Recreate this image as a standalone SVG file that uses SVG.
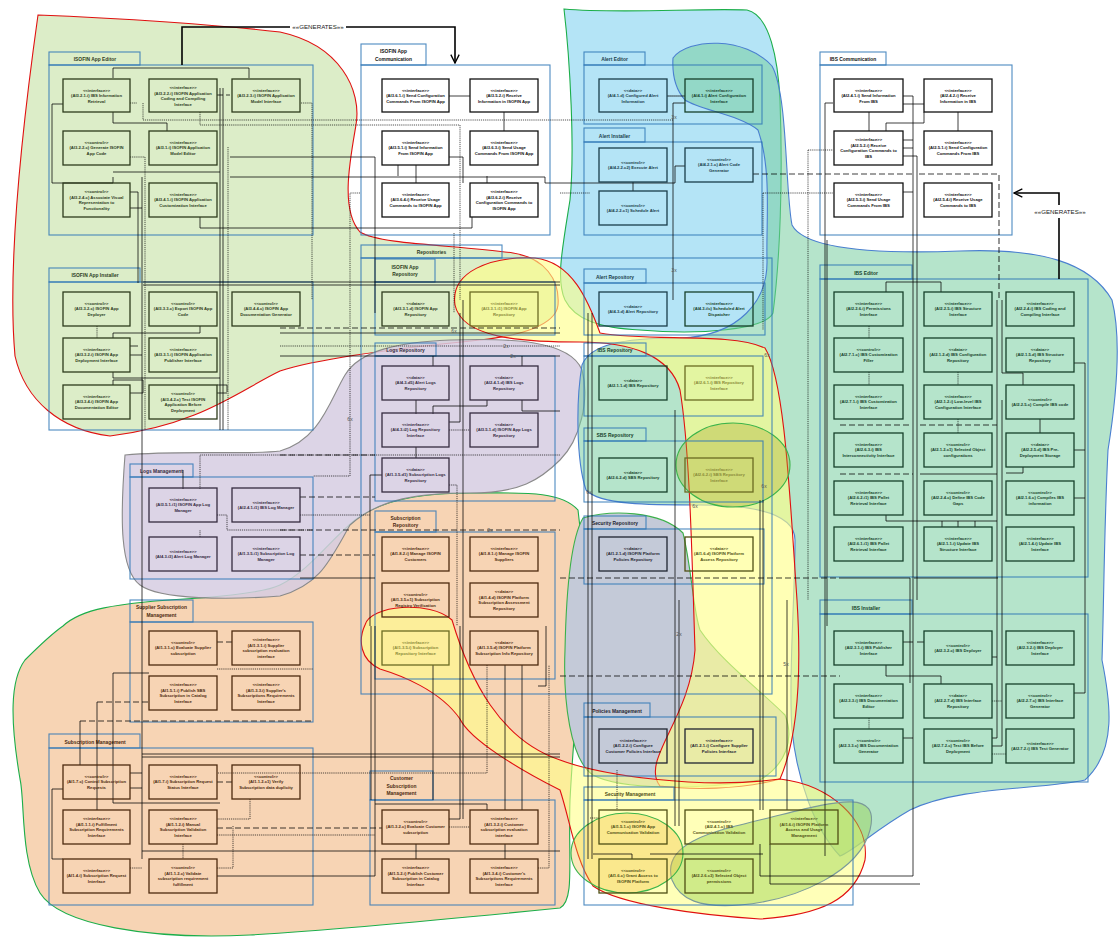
<svg xmlns="http://www.w3.org/2000/svg" width="1120" height="939" viewBox="0 0 1120 939">
<defs>
<marker id="arr" viewBox="0 0 12 12" refX="11" refY="6" markerWidth="10" markerHeight="10" orient="auto" markerUnits="userSpaceOnUse"><path d="M1,1 L11,6 L1,11" fill="none" stroke="#000" stroke-width="1.6"/></marker>
<style>
.blob{stroke-width:1.1}
.pk{fill:none;stroke:#2e75b6;stroke-width:1.1;stroke-opacity:.85}
.pl{font-family:"Liberation Sans",Arial,sans-serif;font-size:4.9px;font-weight:bold;text-anchor:middle}
.n rect{fill:none;stroke-width:1.3}
.n text{font-family:"Liberation Sans",Arial,sans-serif;font-size:4.2px;font-weight:bold;text-anchor:middle}
.ng rect{stroke:#2d3b1c}.ng text,.tg{fill:#2d3b1c}
.nw rect{stroke:#111}.nw text,.tw{fill:#111}
.nb rect{stroke:#1a3d4a}.nb text,.tb{fill:#1a3d4a}
.nt rect{stroke:#163f2a}.nt text,.tt{fill:#163f2a}
.np rect{stroke:#352b40}.np text,.tp{fill:#352b40}
.no rect{stroke:#4d2a0f}.no text,.to{fill:#4d2a0f}
.ns rect{stroke:#1f2430}.ns text,.ts{fill:#1f2430}
.ny rect{stroke:#4f4f14}.ny text,.ty{fill:#4f4f14}
.nl rect{stroke:#6b6b22}.nl text{fill:#8a8a38}
#connectors path{fill:none;stroke:#000;stroke-opacity:.75;stroke-width:1}
#connectors .d{stroke-dasharray:1.2 0.9;stroke-width:.9}
#connectors .l{stroke-dasharray:6 3;stroke-width:1.1}
#connectors .gen{stroke:#000;stroke-opacity:1;stroke-width:1.6}
.gl{font-family:"Liberation Sans",Arial,sans-serif;font-size:6.2px;fill:#222;text-anchor:middle}
.m{font-family:"Liberation Sans",Arial,sans-serif;font-size:5px;fill:#555;text-anchor:middle}
</style>
</defs>
<rect width="1120" height="939" fill="#fff"/>

<g id="blobs">
<path class="blob" fill="#dcedc8" stroke="#e01010" d="M38,15 C120,18 220,25 280,32 C340,45 362,90 356,125 C350,160 340,210 360,232 C380,245 460,245 513,253 C545,258 560,280 558,305 C556,325 520,336 480,340 C400,348 320,358 280,371 C240,390 200,425 110,436 C60,430 25,400 15,356 C10,300 12,200 38,15 Z"/>
<path class="blob" fill="#f7d4b4" stroke="#1cae4a" d="M63,626 C80,610 110,603 200,598 C250,594 270,590 280,585 C310,570 330,540 355,520 C380,500 420,493 470,493 C520,493 560,490 578,510 C590,600 575,700 570,800 C568,860 575,900 560,908 C460,918 330,930 250,935 C150,940 60,925 40,893 C20,860 25,800 20,779 C10,720 10,680 25,660 C40,645 50,635 63,626 Z"/>
<path class="blob" fill="#d6cde2" fill-opacity=".85" stroke="#8a8a8a" d="M125,455 C180,450 250,455 280,451 C320,440 330,400 345,375 C360,350 400,342 450,340 C510,338 570,340 582,370 C590,400 580,440 560,460 C540,480 520,493 470,493 C420,493 380,498 350,525 C330,560 320,585 280,596 C230,600 160,600 140,585 C120,570 120,520 125,455 Z"/>
<path class="blob" fill="#b4e4f6" stroke="#1cae4a" d="M564,9 C620,14 700,8 747,10 C770,15 778,60 780,100 C783,180 780,260 773,313 C765,330 700,335 640,330 C600,328 575,320 565,300 C556,280 562,250 570,200 C575,150 570,60 564,9 Z"/>
<path class="blob" fill="#78cda0" fill-opacity=".55" stroke="#4a7fd0" d="M673,58 C688,38 745,36 772,66 C788,95 785,190 792,225 C805,250 880,254 960,251 C1040,248 1090,262 1112,300 C1122,340 1116,400 1108,450 C1104,530 1104,600 1102,660 C1110,700 1118,750 1085,780 C1040,790 960,786 910,810 C875,830 855,850 840,856 C815,830 797,780 792,730 C788,680 795,600 795,540 C795,515 760,505 700,505 C650,505 600,505 586,490 C576,460 576,400 582,365 C590,345 620,338 680,338 C740,336 768,300 767,260 C766,220 772,170 758,130 C740,115 700,110 685,100 C676,90 672,75 673,58 Z"/>
<path class="blob" fill="#c4cad8" stroke="#3cb04a" d="M583,518 C610,510 660,510 683,533 C692,570 693,610 700,630 C720,660 760,690 785,715 C795,740 785,765 760,780 C700,790 620,790 593,775 C570,760 563,700 565,650 C566,600 570,540 583,518 Z"/>
<path class="blob" fill="#ffff88" fill-opacity=".62" stroke="#e01010" d="M455,305 C450,272 490,256 535,258 C572,262 588,300 600,333 C650,342 730,332 765,348 C785,380 790,500 797,600 C802,680 797,740 780,779 C740,790 690,790 660,786 C640,760 690,720 695,650 C692,560 690,450 680,390 C670,355 630,342 580,342 C520,342 462,338 455,305 Z"/>
<path class="blob" fill="#ffff88" fill-opacity=".6" stroke="#e01010" d="M365,625 C370,605 430,600 452,620 C470,680 500,740 560,760 C600,775 700,790 780,779 C830,785 870,820 865,860 C855,900 820,915 760,919 C700,915 620,905 593,886 C575,860 570,820 560,790 C520,770 470,740 460,719 C440,690 400,675 380,669 C360,660 358,640 365,625 Z"/>
<ellipse class="blob" cx="733" cy="465" rx="57" ry="42" fill="#aaaa28" fill-opacity=".35" stroke="#3cb44a"/>
<path class="blob" fill="#96d250" fill-opacity=".45" stroke="#7a9a9a" d="M672,880 C660,840 720,830 780,815 C840,800 880,790 870,830 C860,870 800,900 740,905 C700,908 680,900 672,880 Z"/>
<ellipse class="blob" cx="627" cy="853" rx="56" ry="40" fill="#f0be3c" fill-opacity=".35" stroke="#3cb44a"/>
</g>

<g id="packages">
<rect class="pk" x="49" y="52" width="91" height="13"/><rect class="pk" x="49" y="65" width="264" height="170"/>
<text class="pl tg" x="95" y="61">ISOFIN App Editor</text>
<rect class="pk" x="49" y="268" width="91" height="14"/><rect class="pk" x="49" y="282" width="264" height="148"/>
<text class="pl tg" x="95" y="277">ISOFIN App Installer</text>
<rect class="pk" x="361" y="44" width="65" height="21"/><rect class="pk" x="361" y="65" width="189" height="170"/>
<text class="pl tw" x="393.5" y="53">ISOFIN App</text><text class="pl tw" x="393.5" y="60.5">Communication</text>
<rect class="pk" x="584" y="52" width="61" height="13"/><rect class="pk" x="584" y="65" width="178" height="59"/>
<text class="pl tb" x="614.5" y="61">Alert Editor</text>
<rect class="pk" x="584" y="128" width="61" height="14"/><rect class="pk" x="584" y="142" width="178" height="93"/>
<text class="pl tb" x="614.5" y="137.5">Alert Installer</text>
<rect class="pk" x="820" y="52" width="66" height="13"/><rect class="pk" x="820" y="65" width="192" height="170"/>
<text class="pl tw" x="853" y="61">IBS Communication</text>
<rect class="pk" x="361" y="245" width="141" height="13"/><rect class="pk" x="361" y="258" width="411" height="436"/>
<text class="pl tg" x="431.5" y="254">Repositories</text>
<rect class="pk" x="375" y="259" width="60" height="23"/><rect class="pk" x="375" y="282" width="180" height="53"/>
<text class="pl tg" x="405" y="268.5">ISOFIN App</text><text class="pl tg" x="405" y="276">Repository</text>
<rect class="pk" x="375" y="343" width="61" height="13"/><rect class="pk" x="375" y="356" width="180" height="145"/>
<text class="pl tp" x="405.5" y="352">Logs Repository</text>
<rect class="pk" x="375" y="511" width="61" height="21"/><rect class="pk" x="375" y="532" width="180" height="147"/>
<text class="pl to" x="405.5" y="519.5">Subscription</text><text class="pl to" x="405.5" y="527">Repository</text>
<rect class="pk" x="584" y="269" width="62" height="14"/><rect class="pk" x="584" y="283" width="181" height="52"/>
<text class="pl tb" x="615" y="278.5">Alert Repository</text>
<rect class="pk" x="584" y="343" width="62" height="13"/><rect class="pk" x="584" y="356" width="179" height="60"/>
<text class="pl tt" x="615" y="352">IBS Repository</text>
<rect class="pk" x="584" y="428" width="62" height="13"/><rect class="pk" x="584" y="441" width="179" height="61"/>
<text class="pl tt" x="615" y="437">SBS Repository</text>
<rect class="pk" x="584" y="516" width="62" height="13"/><rect class="pk" x="584" y="529" width="180" height="55"/>
<text class="pl ts" x="615" y="525">Security Repository</text>
<rect class="pk" x="820" y="265" width="92" height="14"/><rect class="pk" x="820" y="279" width="268" height="298"/>
<text class="pl tt" x="866" y="274.5">IBS Editor</text>
<rect class="pk" x="820" y="600" width="92" height="14"/><rect class="pk" x="820" y="614" width="268" height="168"/>
<text class="pl tt" x="866" y="609.5">IBS Installer</text>
<rect class="pk" x="130" y="464" width="63" height="13"/><rect class="pk" x="130" y="477" width="183" height="102"/>
<text class="pl tp" x="161.5" y="473">Logs Management</text>
<rect class="pk" x="130" y="600" width="63" height="22"/><rect class="pk" x="130" y="622" width="183" height="100"/>
<text class="pl to" x="161.5" y="608.5">Supplier Subscription</text><text class="pl to" x="161.5" y="616.5">Management</text>
<rect class="pk" x="49" y="734" width="91" height="14"/><rect class="pk" x="49" y="748" width="264" height="157"/>
<text class="pl to" x="95" y="743.5">Subscription Management</text>
<rect class="pk" x="370" y="771" width="63" height="29"/><rect class="pk" x="370" y="800" width="185" height="105"/>
<text class="pl to" x="401.5" y="780">Customer</text><text class="pl to" x="401.5" y="787.5">Subscription</text><text class="pl to" x="401.5" y="795">Management</text>
<rect class="pk" x="584" y="703" width="66" height="14"/><rect class="pk" x="584" y="717" width="192" height="59"/>
<text class="pl ts" x="617" y="712.5">Policies Management</text>
<rect class="pk" x="584" y="787" width="90" height="13"/><rect class="pk" x="584" y="800" width="269" height="105"/>
<text class="pl ty" x="630" y="796">Security Management</text>
</g>

<g id="connectors">
<path class="gen" d="M182,65V27H290"/>
<path class="gen" d="M346,27H455V63" marker-end="url(#arr)"/>
<path class="gen" d="M1059,279V218"/>
<path class="gen" d="M1059,205V193H1014" marker-end="url(#arr)"/>
<path d="M113,78V68H249V78"/>
<path d="M63,104H52V183H113V177"/>
<path d="M113,112V123H167V131"/>
<path d="M113,172H220"/>
<path d="M130,192H138V283"/>
<path d="M130,208H142"/>
<path d="M220,88V430"/>
<path d="M223,88V430"/>
<path d="M200,217V228H472V217"/>
<path d="M230,157H375V313"/>
<path d="M230,177H545V183H675V166H685"/>
<path d="M449,96H470"/>
<path d="M504,112V131"/>
<path d="M398,165V176"/>
<path d="M416,165V183"/>
<path d="M487,176V183"/>
<path d="M449,157H463V183"/>
<path d="M143,282H560"/>
<path d="M143,285H560"/>
<path d="M685,103H673V300"/>
<path d="M633,182V191"/>
<path d="M903,96H913V600"/>
<path d="M903,104H924"/>
<path d="M869,112V131"/>
<path d="M886,131V123H924V112"/>
<path d="M958,112V131"/>
<path d="M903,140H913M903,148H913M903,192H913"/>
<path d="M903,156H917V600"/>
<path d="M886,292V282H941V292"/>
<path d="M1002,300V373H1023V385"/>
<path d="M1040,419V433"/>
<path d="M1074,363H1085V693H1074"/>
<path d="M1074,450H1085M1074,498H1085"/>
<path d="M1006,473H1023V467"/>
<path d="M886,515V521H997M942,521V527M958,521V527M975,521V527"/>
<path d="M920,474H997"/>
<path class="l" d="M840,474H913M840,425H912M920,425H997"/>
<path d="M997,300V738H992"/>
<path d="M1002,400V746H992"/>
<path d="M913,600V876H760V844"/>
<path d="M920,884H770V844"/>
<path d="M910,578V683"/>
<path d="M840,578H910M914,578H998"/>
<path d="M903,642H913M917,642H924"/>
<path d="M886,665V676H941V684"/>
<path d="M992,657H997M903,738H913"/>
<path d="M833,103H825V856"/>
<path d="M827,240V626"/>
<path class="l" d="M560,676H840"/>
<path class="l" d="M560,578H840"/>
<path d="M588,313V859M592,313V859"/>
<path d="M675,410V826M679,600V826"/>
<path d="M760,500V810M763,500V810M787,600V810"/>
<path d="M593,854H632V859M650,854H763"/>
<path d="M113,673H149"/>
<path d="M113,673V803H220"/>
<path class="l" d="M97,702H149"/>
<path d="M97,702V810"/>
<path class="l" d="M80,721H313"/>
<path d="M80,721V765"/>
<path d="M142,754H560M142,757H560"/>
<path d="M63,789H52V859H63"/>
<path d="M130,773H142M130,788H142"/>
<path d="M142,177V859"/>
<path d="M142,851H560"/>
<path d="M217,876H375V626"/>
<path d="M433,665V800"/>
<path d="M460,626V819H449"/>
<path d="M505,665V810M522,665V810"/>
<path d="M546,626V686H538"/>
<path d="M416,844V859M505,844V859"/>
<path d="M375,804H487V810"/>
<path d="M382,475H370V626"/>
<path d="M371,626V800"/>
<path d="M449,422H460V313"/>
<path d="M433,356V366M522,356V366"/>
<path d="M416,400V414"/>
<path d="M433,414V406H487V400"/>
<path d="M522,400V411H560"/>
<path d="M416,447V458"/>
<path d="M463,300V819"/>
<path d="M113,338V333H200V326"/>
<path d="M130,346H138M130,355H142"/>
<path d="M113,372V378H220"/>
<path d="M113,385V380H143V393H130"/>
<path d="M217,385H227V392M217,393H227"/>
<path d="M183,470V489"/>
<path d="M280,356H560"/>
<path class="l" d="M280,328H560"/>
<path d="M280,333H560"/>
<path class="l" d="M280,455H375M300,497H375"/>
<path class="l" d="M280,530H560M300,555H375"/>
<path d="M300,578H375"/>
<path class="d" d="M130,103H137"/>
<path class="d" d="M143,103V120H673"/>
<path class="d" d="M200,112V125H460V300"/>
<path class="d" d="M130,157H145V430"/>
<path class="d" d="M228,147V430"/>
<path class="d" d="M301,103H312V300"/>
<path class="d" d="M360,193H350V476H313"/>
<path class="d" d="M454,233V313"/>
<path class="d" d="M668,96H685"/>
<path class="d" d="M560,193H590"/>
<path class="d" d="M763,193H833M763,193V330"/>
<path class="d" d="M808,150H833M808,150V600"/>
<path class="d" d="M869,326V338M869,372V385M958,372V385M958,419V433M869,718V729"/>
<path class="d" d="M992,701H1002M992,754H1006"/>
<path class="d" d="M97,326V338"/>
<path class="d" d="M200,489V455H560"/>
<path class="d" d="M280,346H560"/>
<path class="d" d="M217,515H227V530H313"/>
<path class="d" d="M200,537V530"/>
<path class="d" d="M250,799V819H217"/>
<path class="d" d="M233,826V868H217"/>
<path class="d" d="M183,844V859"/>
<path class="d" d="M217,669H313"/>
<path class="d" d="M449,485H457V626"/>
<path class="d" d="M487,665V773H217"/>
<path class="d" d="M538,868H549V665"/>
<path class="d" d="M449,827H470"/>
<path class="d" d="M617,770V810M590,818H599"/>
<path class="d" d="M217,835H375"/>
<path class="d" d="M130,868H142"/>
<path class="d" d="M300,515H370"/>
<path class="d" d="M449,430H470"/>
<path class="d" d="M667,96H685"/>
<path class="l" d="M217,95H230"/>
<path class="l" d="M753,174H912M919,174H999V300"/>
<path class="l" d="M217,828H382"/>
<path class="l" d="M217,782H232"/>
<path class="l" d="M217,642H232"/>
<text class="gl" x="318" y="29">««GENERATES»»</text>
<text class="gl" x="1060" y="214">««GENERATES»»</text>
<text class="m" x="674" y="119">3x</text>
<text class="m" x="674" y="272">3x</text>
<text class="m" x="454" y="333">6x</text>
<text class="m" x="506" y="348">2x</text>
<text class="m" x="513" y="358">2x</text>
<text class="m" x="350" y="421">6x</text>
<text class="m" x="490" y="532">2x</text>
<text class="m" x="767" y="357">6x</text>
<text class="m" x="589" y="494">6x</text>
<text class="m" x="695" y="508">6x</text>
<text class="m" x="764" y="488">6x</text>
<text class="m" x="679" y="636">2x</text>
<text class="m" x="786" y="666">5x</text>
</g>

<g id="n-ai3-2-1-i" class="n ng"><rect x="63" y="79" width="67" height="33"/><text x="96.5" y="91.6"><tspan x="96.5">&lt;&lt;interface&gt;&gt;</tspan><tspan x="96.5" dy="5.8">(AI3.2.1.i) IBS Information</tspan><tspan x="96.5" dy="5.8">Retrieval</tspan></text></g>
<g id="n-ai3-2-2-i" class="n ng"><rect x="149" y="79" width="68" height="33"/><text x="183" y="88.7"><tspan x="183">&lt;&lt;interface&gt;&gt;</tspan><tspan x="183" dy="5.8">(AI3.2.2.i) ISOFIN Application</tspan><tspan x="183" dy="5.8">Coding and Compiling</tspan><tspan x="183" dy="5.8">Interface</tspan></text></g>
<g id="n-ai3-2-3-i" class="n ng"><rect x="232" y="79" width="68" height="33"/><text x="266" y="91.6"><tspan x="266">&lt;&lt;interface&gt;&gt;</tspan><tspan x="266" dy="5.8">(AI3.2.3.i) ISOFIN Application</tspan><tspan x="266" dy="5.8">Model Interface</tspan></text></g>
<g id="n-ai3-2-2-c" class="n ng"><rect x="63" y="131" width="67" height="34"/><text x="96.5" y="143.6"><tspan x="96.5">&lt;&lt;control&gt;&gt;</tspan><tspan x="96.5" dy="5.8">(AI3.2.2.c) Generate ISOFIN</tspan><tspan x="96.5" dy="5.8">App Code</tspan></text></g>
<g id="n-ai3-1-i" class="n ng"><rect x="149" y="131" width="68" height="34"/><text x="183" y="143.6"><tspan x="183">&lt;&lt;interface&gt;&gt;</tspan><tspan x="183" dy="5.8">(AI3.1.i) ISOFIN Application</tspan><tspan x="183" dy="5.8">Model Editor</tspan></text></g>
<g id="n-ai3-2-4-c" class="n ng"><rect x="63" y="183" width="67" height="34"/><text x="96.5" y="192.7"><tspan x="96.5">&lt;&lt;control&gt;&gt;</tspan><tspan x="96.5" dy="5.8">(AI3.2.4.c) Associate Visual</tspan><tspan x="96.5" dy="5.8">Representation to</tspan><tspan x="96.5" dy="5.8">Functionality</tspan></text></g>
<g id="n-ai3-4-1-i" class="n ng"><rect x="149" y="183" width="68" height="34"/><text x="183" y="195.6"><tspan x="183">&lt;&lt;interface&gt;&gt;</tspan><tspan x="183" dy="5.8">(AI3.4.1.i) ISOFIN Application</tspan><tspan x="183" dy="5.8">Customization Interface</tspan></text></g>

<g id="n-ai3-3-2-c" class="n ng"><rect x="63" y="292" width="67" height="34"/><text x="96.5" y="304.6"><tspan x="96.5">&lt;&lt;control&gt;&gt;</tspan><tspan x="96.5" dy="5.8">(AI3.3.2.c) ISOFIN App</tspan><tspan x="96.5" dy="5.8">Deployer</tspan></text></g>
<g id="n-ai3-3-3-c" class="n ng"><rect x="149" y="292" width="68" height="34"/><text x="183" y="304.6"><tspan x="183">&lt;&lt;control&gt;&gt;</tspan><tspan x="183" dy="5.8">(AI3.3.3.c) Export ISOFIN App</tspan><tspan x="183" dy="5.8">Code</tspan></text></g>
<g id="n-ai3-4-4-c" class="n ng"><rect x="232" y="292" width="68" height="34"/><text x="266" y="304.6"><tspan x="266">&lt;&lt;control&gt;&gt;</tspan><tspan x="266" dy="5.8">(AI3.4.4.c) ISOFIN App</tspan><tspan x="266" dy="5.8">Documentation Generator</tspan></text></g>
<g id="n-ai3-3-2-i" class="n ng"><rect x="63" y="338" width="67" height="34"/><text x="96.5" y="350.6"><tspan x="96.5">&lt;&lt;interface&gt;&gt;</tspan><tspan x="96.5" dy="5.8">(AI3.3.2.i) ISOFIN App</tspan><tspan x="96.5" dy="5.8">Deployment Interface</tspan></text></g>
<g id="n-ai3-3-1-i" class="n ng"><rect x="149" y="338" width="68" height="34"/><text x="183" y="350.6"><tspan x="183">&lt;&lt;interface&gt;&gt;</tspan><tspan x="183" dy="5.8">(AI3.3.1.i) ISOFIN Application</tspan><tspan x="183" dy="5.8">Publisher Interface</tspan></text></g>
<g id="n-ai3-3-4-i" class="n ng"><rect x="63" y="385" width="67" height="34"/><text x="96.5" y="397.6"><tspan x="96.5">&lt;&lt;interface&gt;&gt;</tspan><tspan x="96.5" dy="5.8">(AI3.3.4.i) ISOFIN App</tspan><tspan x="96.5" dy="5.8">Documentation Editor</tspan></text></g>
<g id="n-ai3-4-2-c" class="n ng"><rect x="149" y="385" width="68" height="34"/><text x="183" y="394.7"><tspan x="183">&lt;&lt;control&gt;&gt;</tspan><tspan x="183" dy="5.8">(AI3.4.2.c) Test ISOFIN</tspan><tspan x="183" dy="5.8">Application Before</tspan><tspan x="183" dy="5.8">Deployment</tspan></text></g>

<g id="n-ai3-6-1-i" class="n nw"><rect x="382" y="79" width="67" height="33"/><text x="415.5" y="91.6"><tspan x="415.5">&lt;&lt;interface&gt;&gt;</tspan><tspan x="415.5" dy="5.8">(AI3.6.1.i) Send Configuration</tspan><tspan x="415.5" dy="5.8">Commands From ISOFIN App</tspan></text></g>
<g id="n-ai3-5-2-i" class="n nw"><rect x="470" y="79" width="68" height="33"/><text x="504" y="91.6"><tspan x="504">&lt;&lt;interface&gt;&gt;</tspan><tspan x="504" dy="5.8">(AI3.5.2.i) Receive</tspan><tspan x="504" dy="5.8">Information in ISOFIN App</tspan></text></g>
<g id="n-ai3-5-1-i" class="n nw"><rect x="382" y="131" width="67" height="34"/><text x="415.5" y="143.6"><tspan x="415.5">&lt;&lt;interface&gt;&gt;</tspan><tspan x="415.5" dy="5.8">(AI3.5.1.i) Send Information</tspan><tspan x="415.5" dy="5.8">From ISOFIN App</tspan></text></g>
<g id="n-ai3-6-3-i" class="n nw"><rect x="470" y="131" width="68" height="34"/><text x="504" y="143.6"><tspan x="504">&lt;&lt;interface&gt;&gt;</tspan><tspan x="504" dy="5.8">(AI3.6.3.i) Send Usage</tspan><tspan x="504" dy="5.8">Commands From ISOFIN App</tspan></text></g>
<g id="n-ai3-6-4-i" class="n nw"><rect x="382" y="183" width="67" height="34"/><text x="415.5" y="195.6"><tspan x="415.5">&lt;&lt;interface&gt;&gt;</tspan><tspan x="415.5" dy="5.8">(AI3.6.4.i) Receive Usage</tspan><tspan x="415.5" dy="5.8">Commands to ISOFIN App</tspan></text></g>
<g id="n-ai3-6-2-i" class="n nw"><rect x="470" y="183" width="68" height="34"/><text x="504" y="192.7"><tspan x="504">&lt;&lt;interface&gt;&gt;</tspan><tspan x="504" dy="5.8">(AI3.6.2.i) Receive</tspan><tspan x="504" dy="5.8">Configuration Commands to</tspan><tspan x="504" dy="5.8">ISOFIN App</tspan></text></g>

<g id="n-ai4-1-d" class="n nb"><rect x="599" y="79" width="68" height="33"/><text x="633" y="91.6"><tspan x="633">&lt;&lt;data&gt;&gt;</tspan><tspan x="633" dy="5.8">(AI4.1.d) Configured Alert</tspan><tspan x="633" dy="5.8">Information</tspan></text></g>
<g id="n-ai4-1-i" class="n nt"><rect x="685" y="79" width="68" height="33"/><text x="719" y="91.6"><tspan x="719">&lt;&lt;interface&gt;&gt;</tspan><tspan x="719" dy="5.8">(AI4.1.i) Alert Configuration</tspan><tspan x="719" dy="5.8">Interface</tspan></text></g>
<g id="n-ai4-2-2-c2" class="n nb"><rect x="599" y="148" width="68" height="34"/><text x="633" y="163.5"><tspan x="633">&lt;&lt;control&gt;&gt;</tspan><tspan x="633" dy="5.8">(AI4.2.2.c2) Execute Alert</tspan></text></g>
<g id="n-ai4-2-1-c" class="n nb"><rect x="685" y="148" width="68" height="34"/><text x="719" y="160.6"><tspan x="719">&lt;&lt;control&gt;&gt;</tspan><tspan x="719" dy="5.8">(AI4.2.1.c) Alert Code</tspan><tspan x="719" dy="5.8">Generator</tspan></text></g>
<g id="n-ai4-2-2-c1" class="n nb"><rect x="599" y="191" width="68" height="34"/><text x="633" y="206.5"><tspan x="633">&lt;&lt;control&gt;&gt;</tspan><tspan x="633" dy="5.8">(AI4.2.2.c1) Schedule Alert</tspan></text></g>

<g id="n-ai2-4-1-i" class="n nw"><rect x="834" y="79" width="69" height="33"/><text x="868.5" y="91.6"><tspan x="868.5">&lt;&lt;interface&gt;&gt;</tspan><tspan x="868.5" dy="5.8">(AI2.4.1.i) Send Information</tspan><tspan x="868.5" dy="5.8">From IBS</tspan></text></g>
<g id="n-ai2-4-2-i" class="n nw"><rect x="924" y="79" width="68" height="33"/><text x="958" y="91.6"><tspan x="958">&lt;&lt;interface&gt;&gt;</tspan><tspan x="958" dy="5.8">(AI2.4.2.i) Receive</tspan><tspan x="958" dy="5.8">Information in IBS</tspan></text></g>
<g id="n-ai2-5-2-i" class="n nw"><rect x="834" y="131" width="69" height="34"/><text x="868.5" y="140.7"><tspan x="868.5">&lt;&lt;interface&gt;&gt;</tspan><tspan x="868.5" dy="5.8">(AI2.5.2.i) Receive</tspan><tspan x="868.5" dy="5.8">Configuration Commands to</tspan><tspan x="868.5" dy="5.8">IBS</tspan></text></g>
<g id="n-ai2-5-1-i" class="n nw"><rect x="924" y="131" width="68" height="34"/><text x="958" y="143.6"><tspan x="958">&lt;&lt;interface&gt;&gt;</tspan><tspan x="958" dy="5.8">(AI2.5.1.i) Send Configuration</tspan><tspan x="958" dy="5.8">Commands From IBS</tspan></text></g>
<g id="n-ai2-5-3-i" class="n nw"><rect x="834" y="183" width="69" height="34"/><text x="868.5" y="195.6"><tspan x="868.5">&lt;&lt;interface&gt;&gt;</tspan><tspan x="868.5" dy="5.8">(AI2.5.3.i) Send Usage</tspan><tspan x="868.5" dy="5.8">Commands From IBS</tspan></text></g>
<g id="n-ai2-5-4-i" class="n nw"><rect x="924" y="183" width="68" height="34"/><text x="958" y="195.6"><tspan x="958">&lt;&lt;interface&gt;&gt;</tspan><tspan x="958" dy="5.8">(AI2.5.4.i) Receive Usage</tspan><tspan x="958" dy="5.8">Commands to IBS</tspan></text></g>

<g id="n-ai3-3-1-d" class="n ng"><rect x="382" y="292" width="67" height="34"/><text x="415.5" y="304.6"><tspan x="415.5">&lt;&lt;data&gt;&gt;</tspan><tspan x="415.5" dy="5.8">(AI3.3.1.d) ISOFIN App</tspan><tspan x="415.5" dy="5.8">Repository</tspan></text></g>
<g id="n-ai3-3-1-i1" class="n nl"><rect x="470" y="292" width="68" height="34"/><text x="504" y="304.6"><tspan x="504">&lt;&lt;interface&gt;&gt;</tspan><tspan x="504" dy="5.8">(AI3.3.1.i1) ISOFIN App</tspan><tspan x="504" dy="5.8">Repository</tspan></text></g>
<g id="n-ai4-3-d" class="n nb"><rect x="599" y="292" width="68" height="34"/><text x="633" y="307.5"><tspan x="633">&lt;&lt;data&gt;&gt;</tspan><tspan x="633" dy="5.8">(AI4.3.d) Alert Repository</tspan></text></g>
<g id="n-ai4-3-ic" class="n nt"><rect x="685" y="292" width="68" height="34"/><text x="719" y="304.6"><tspan x="719">&lt;&lt;interface&gt;&gt;</tspan><tspan x="719" dy="5.8">(AI4.3.i/c) Scheduled Alert</tspan><tspan x="719" dy="5.8">Dispatcher</tspan></text></g>
<g id="n-ai4-3-d5" class="n np"><rect x="382" y="366" width="67" height="34"/><text x="415.5" y="378.6"><tspan x="415.5">&lt;&lt;data&gt;&gt;</tspan><tspan x="415.5" dy="5.8">(AI4.3.d5) Alert Logs</tspan><tspan x="415.5" dy="5.8">Repository</tspan></text></g>
<g id="n-ai2-4-1-d" class="n np"><rect x="470" y="366" width="68" height="34"/><text x="504" y="378.6"><tspan x="504">&lt;&lt;data&gt;&gt;</tspan><tspan x="504" dy="5.8">(AI2.4.1.d) IBS Logs</tspan><tspan x="504" dy="5.8">Repository</tspan></text></g>
<g id="n-ai4-3-i2" class="n np"><rect x="382" y="413" width="67" height="34"/><text x="415.5" y="425.6"><tspan x="415.5">&lt;&lt;interface&gt;&gt;</tspan><tspan x="415.5" dy="5.8">(AI4.3.i2) Log Repository</tspan><tspan x="415.5" dy="5.8">Interface</tspan></text></g>
<g id="n-ai3-5-1-d" class="n np"><rect x="470" y="413" width="68" height="34"/><text x="504" y="425.6"><tspan x="504">&lt;&lt;data&gt;&gt;</tspan><tspan x="504" dy="5.8">(AI3.5.1.d) ISOFIN App Logs</tspan><tspan x="504" dy="5.8">Repository</tspan></text></g>
<g id="n-ai1-3-5-d1" class="n np"><rect x="382" y="458" width="67" height="34"/><text x="415.5" y="470.6"><tspan x="415.5">&lt;&lt;data&gt;&gt;</tspan><tspan x="415.5" dy="5.8">(AI1.3.5.d1) Subscription Logs</tspan><tspan x="415.5" dy="5.8">Repository</tspan></text></g>
<g id="n-ai2-1-1-d" class="n nt"><rect x="599" y="366" width="68" height="34"/><text x="633" y="381.5"><tspan x="633">&lt;&lt;data&gt;&gt;</tspan><tspan x="633" dy="5.8">(AI2.1.1.d) IBS Repository</tspan></text></g>
<g id="n-ai2-6-1-i" class="n nl"><rect x="685" y="366" width="68" height="34"/><text x="719" y="378.6"><tspan x="719">&lt;&lt;interface&gt;&gt;</tspan><tspan x="719" dy="5.8">(AI2.6.1.i) IBS Repository</tspan><tspan x="719" dy="5.8">Interface</tspan></text></g>
<g id="n-ai2-6-2-d" class="n nt"><rect x="599" y="458" width="68" height="34"/><text x="633" y="473.5"><tspan x="633">&lt;&lt;data&gt;&gt;</tspan><tspan x="633" dy="5.8">(AI2.6.2.d) SBS Repository</tspan></text></g>
<g id="n-ai2-6-2-i" class="n nl"><rect x="685" y="458" width="68" height="34"/><text x="719" y="470.6"><tspan x="719">&lt;&lt;interface&gt;&gt;</tspan><tspan x="719" dy="5.8">(AI2.6.2.i) SBS Repository</tspan><tspan x="719" dy="5.8">Interface</tspan></text></g>
<g id="n-ai1-8-2-i" class="n no"><rect x="382" y="537" width="67" height="34"/><text x="415.5" y="549.6"><tspan x="415.5">&lt;&lt;interface&gt;&gt;</tspan><tspan x="415.5" dy="5.8">(AI1.8.2.i) Manage ISOFIN</tspan><tspan x="415.5" dy="5.8">Customers</tspan></text></g>
<g id="n-ai1-8-1-i" class="n no"><rect x="470" y="537" width="68" height="34"/><text x="504" y="549.6"><tspan x="504">&lt;&lt;interface&gt;&gt;</tspan><tspan x="504" dy="5.8">(AI1.8.1.i) Manage ISOFIN</tspan><tspan x="504" dy="5.8">Suppliers</tspan></text></g>
<g id="n-ai1-3-5-c1" class="n no"><rect x="382" y="583" width="67" height="34"/><text x="415.5" y="595.6"><tspan x="415.5">&lt;&lt;control&gt;&gt;</tspan><tspan x="415.5" dy="5.8">(AI1.3.5.c1) Subscription</tspan><tspan x="415.5" dy="5.8">Registry Verification</tspan></text></g>
<g id="n-ai1-4-d" class="n no"><rect x="470" y="583" width="68" height="34"/><text x="504" y="592.7"><tspan x="504">&lt;&lt;data&gt;&gt;</tspan><tspan x="504" dy="5.8">(AI1.4.d) ISOFIN Platform</tspan><tspan x="504" dy="5.8">Subscription Assessment</tspan><tspan x="504" dy="5.8">Repository</tspan></text></g>
<g id="n-ai1-3-5-i" class="n nl"><rect x="382" y="631" width="67" height="34"/><text x="415.5" y="643.6"><tspan x="415.5">&lt;&lt;interface&gt;&gt;</tspan><tspan x="415.5" dy="5.8">(AI1.3.5.i) Subscription</tspan><tspan x="415.5" dy="5.8">Repository Interface</tspan></text></g>
<g id="n-ai1-3-5-d" class="n no"><rect x="470" y="631" width="68" height="34"/><text x="504" y="643.6"><tspan x="504">&lt;&lt;data&gt;&gt;</tspan><tspan x="504" dy="5.8">(AI1.3.5.d) ISOFIN Platform</tspan><tspan x="504" dy="5.8">Subscription Info Repository</tspan></text></g>
<g id="n-ai1-2-1-d" class="n ns"><rect x="599" y="537" width="68" height="34"/><text x="633" y="549.6"><tspan x="633">&lt;&lt;data&gt;&gt;</tspan><tspan x="633" dy="5.8">(AI1.2.1.d) ISOFIN Platform</tspan><tspan x="633" dy="5.8">Policies Repository</tspan></text></g>
<g id="n-ai1-6-d" class="n ny"><rect x="685" y="537" width="68" height="34"/><text x="719" y="549.6"><tspan x="719">&lt;&lt;data&gt;&gt;</tspan><tspan x="719" dy="5.8">(AI1.6.d) ISOFIN Platform</tspan><tspan x="719" dy="5.8">Access Repository</tspan></text></g>

<g id="n-ai2-2-6-i" class="n nt"><rect x="834" y="292" width="69" height="34"/><text x="868.5" y="304.6"><tspan x="868.5">&lt;&lt;interface&gt;&gt;</tspan><tspan x="868.5" dy="5.8">(AI2.2.6.i) Permissions</tspan><tspan x="868.5" dy="5.8">Interface</tspan></text></g>
<g id="n-ai2-2-5-i" class="n nt"><rect x="924" y="292" width="68" height="34"/><text x="958" y="304.6"><tspan x="958">&lt;&lt;interface&gt;&gt;</tspan><tspan x="958" dy="5.8">(AI2.2.5.i) IBS Structure</tspan><tspan x="958" dy="5.8">Interface</tspan></text></g>
<g id="n-ai2-2-4-i" class="n nt"><rect x="1006" y="292" width="68" height="34"/><text x="1040" y="304.6"><tspan x="1040">&lt;&lt;interface&gt;&gt;</tspan><tspan x="1040" dy="5.8">(AI2.2.4.i) IBS Coding and</tspan><tspan x="1040" dy="5.8">Compiling Interface</tspan></text></g>
<g id="n-ai2-7-1-c" class="n nt"><rect x="834" y="338" width="69" height="34"/><text x="868.5" y="350.6"><tspan x="868.5">&lt;&lt;control&gt;&gt;</tspan><tspan x="868.5" dy="5.8">(AI2.7.1.c) IBS Customization</tspan><tspan x="868.5" dy="5.8">Filler</tspan></text></g>
<g id="n-ai2-1-2-d" class="n nt"><rect x="924" y="338" width="68" height="34"/><text x="958" y="350.6"><tspan x="958">&lt;&lt;data&gt;&gt;</tspan><tspan x="958" dy="5.8">(AI2.1.2.d) IBS Configuration</tspan><tspan x="958" dy="5.8">Repository</tspan></text></g>
<g id="n-ai2-1-5-d" class="n nt"><rect x="1006" y="338" width="68" height="34"/><text x="1040" y="350.6"><tspan x="1040">&lt;&lt;data&gt;&gt;</tspan><tspan x="1040" dy="5.8">(AI2.1.5.d) IBS Structure</tspan><tspan x="1040" dy="5.8">Repository</tspan></text></g>
<g id="n-ai2-7-1-i" class="n nt"><rect x="834" y="385" width="69" height="34"/><text x="868.5" y="397.6"><tspan x="868.5">&lt;&lt;interface&gt;&gt;</tspan><tspan x="868.5" dy="5.8">(AI2.7.1.i) IBS Customization</tspan><tspan x="868.5" dy="5.8">Interface</tspan></text></g>
<g id="n-ai2-1-2-i" class="n nt"><rect x="924" y="385" width="68" height="34"/><text x="958" y="397.6"><tspan x="958">&lt;&lt;interface&gt;&gt;</tspan><tspan x="958" dy="5.8">(AI2.1.2.i) Low-level IBS</tspan><tspan x="958" dy="5.8">Configuration Interface</tspan></text></g>
<g id="n-ai2-2-5-c" class="n nt"><rect x="1006" y="385" width="68" height="34"/><text x="1040" y="400.5"><tspan x="1040">&lt;&lt;control&gt;&gt;</tspan><tspan x="1040" dy="5.8">(AI2.2.5.c) Compile IBS code</tspan></text></g>
<g id="n-ai2-6-3-i" class="n nt"><rect x="834" y="433" width="69" height="34"/><text x="868.5" y="445.6"><tspan x="868.5">&lt;&lt;interface&gt;&gt;</tspan><tspan x="868.5" dy="5.8">(AI2.6.3.i) IBS</tspan><tspan x="868.5" dy="5.8">Interconnectivity Interface</tspan></text></g>
<g id="n-ai2-1-2-c1" class="n nt"><rect x="924" y="433" width="68" height="34"/><text x="958" y="445.6"><tspan x="958">&lt;&lt;control&gt;&gt;</tspan><tspan x="958" dy="5.8">(AI2.1.2.c1) Selected Object</tspan><tspan x="958" dy="5.8">configurations</tspan></text></g>
<g id="n-ai2-2-5-d" class="n nt"><rect x="1006" y="433" width="68" height="34"/><text x="1040" y="445.6"><tspan x="1040">&lt;&lt;data&gt;&gt;</tspan><tspan x="1040" dy="5.8">(AI2.2.5.d) IBS Pre-</tspan><tspan x="1040" dy="5.8">Deployment Storage</tspan></text></g>
<g id="n-ai2-6-2-i1" class="n nt"><rect x="834" y="481" width="69" height="34"/><text x="868.5" y="493.6"><tspan x="868.5">&lt;&lt;interface&gt;&gt;</tspan><tspan x="868.5" dy="5.8">(AI2.6.2.i1) IBS Pallet</tspan><tspan x="868.5" dy="5.8">Retrieval Interface</tspan></text></g>
<g id="n-ai2-2-4-c" class="n nt"><rect x="924" y="481" width="68" height="34"/><text x="958" y="493.6"><tspan x="958">&lt;&lt;control&gt;&gt;</tspan><tspan x="958" dy="5.8">(AI2.2.4.c) Define IBS Code</tspan><tspan x="958" dy="5.8">Gaps</tspan></text></g>
<g id="n-ai2-1-6-c" class="n nt"><rect x="1006" y="481" width="68" height="34"/><text x="1040" y="493.6"><tspan x="1040">&lt;&lt;control&gt;&gt;</tspan><tspan x="1040" dy="5.8">(AI2.1.6.c) Compiles IBS</tspan><tspan x="1040" dy="5.8">information</tspan></text></g>
<g id="n-ai2-6-1-i1" class="n nt"><rect x="834" y="527" width="69" height="34"/><text x="868.5" y="539.6"><tspan x="868.5">&lt;&lt;interface&gt;&gt;</tspan><tspan x="868.5" dy="5.8">(AI2.6.1.i1) IBS Pallet</tspan><tspan x="868.5" dy="5.8">Retrieval Interface</tspan></text></g>
<g id="n-ai2-1-1-i" class="n nt"><rect x="924" y="527" width="68" height="34"/><text x="958" y="539.6"><tspan x="958">&lt;&lt;interface&gt;&gt;</tspan><tspan x="958" dy="5.8">(AI2.1.1.i) Update IBS</tspan><tspan x="958" dy="5.8">Structure Interface</tspan></text></g>
<g id="n-ai2-1-4-i" class="n nt"><rect x="1006" y="527" width="68" height="34"/><text x="1040" y="539.6"><tspan x="1040">&lt;&lt;interface&gt;&gt;</tspan><tspan x="1040" dy="5.8">(AI2.1.4.i) Update IBS</tspan><tspan x="1040" dy="5.8">Interface</tspan></text></g>

<g id="n-ai2-3-1-i" class="n nt"><rect x="834" y="631" width="69" height="34"/><text x="868.5" y="643.6"><tspan x="868.5">&lt;&lt;interface&gt;&gt;</tspan><tspan x="868.5" dy="5.8">(AI2.3.1.i) IBS Publisher</tspan><tspan x="868.5" dy="5.8">Interface</tspan></text></g>
<g id="n-ai2-3-2-c" class="n nt"><rect x="924" y="631" width="68" height="34"/><text x="958" y="646.5"><tspan x="958">&lt;&lt;control&gt;&gt;</tspan><tspan x="958" dy="5.8">(AI2.3.2.c) IBS Deployer</tspan></text></g>
<g id="n-ai2-3-2-i" class="n nt"><rect x="1006" y="631" width="68" height="34"/><text x="1040" y="643.6"><tspan x="1040">&lt;&lt;interface&gt;&gt;</tspan><tspan x="1040" dy="5.8">(AI2.3.2.i) IBS Deployer</tspan><tspan x="1040" dy="5.8">Interface</tspan></text></g>
<g id="n-ai2-3-3-i" class="n nt"><rect x="834" y="684" width="69" height="34"/><text x="868.5" y="696.6"><tspan x="868.5">&lt;&lt;interface&gt;&gt;</tspan><tspan x="868.5" dy="5.8">(AI2.3.3.i) IBS Documentation</tspan><tspan x="868.5" dy="5.8">Editor</tspan></text></g>
<g id="n-ai2-2-7-d" class="n nt"><rect x="924" y="684" width="68" height="34"/><text x="958" y="696.6"><tspan x="958">&lt;&lt;data&gt;&gt;</tspan><tspan x="958" dy="5.8">(AI2.2.7.d) IBS Interface</tspan><tspan x="958" dy="5.8">Repository</tspan></text></g>
<g id="n-ai2-2-7-c" class="n nt"><rect x="1006" y="684" width="68" height="34"/><text x="1040" y="696.6"><tspan x="1040">&lt;&lt;control&gt;&gt;</tspan><tspan x="1040" dy="5.8">(AI2.2.7.c) IBS Interface</tspan><tspan x="1040" dy="5.8">Generator</tspan></text></g>
<g id="n-ai2-3-3-c" class="n nt"><rect x="834" y="729" width="69" height="34"/><text x="868.5" y="741.6"><tspan x="868.5">&lt;&lt;control&gt;&gt;</tspan><tspan x="868.5" dy="5.8">(AI2.3.3.c) IBS Documentation</tspan><tspan x="868.5" dy="5.8">Generator</tspan></text></g>
<g id="n-ai2-7-2-c" class="n nt"><rect x="924" y="729" width="68" height="34"/><text x="958" y="741.6"><tspan x="958">&lt;&lt;control&gt;&gt;</tspan><tspan x="958" dy="5.8">(AI2.7.2.c) Test IBS Before</tspan><tspan x="958" dy="5.8">Deployment</tspan></text></g>
<g id="n-ai2-7-2-i" class="n nt"><rect x="1006" y="729" width="68" height="34"/><text x="1040" y="744.5"><tspan x="1040">&lt;&lt;interface&gt;&gt;</tspan><tspan x="1040" dy="5.8">(AI2.7.2.i) IBS Test Generator</tspan></text></g>

<g id="n-ai3-5-1-i1" class="n np"><rect x="149" y="488" width="68" height="34"/><text x="183" y="500.6"><tspan x="183">&lt;&lt;interface&gt;&gt;</tspan><tspan x="183" dy="5.8">(AI3.5.1.i1) ISOFIN App Log</tspan><tspan x="183" dy="5.8">Manager</tspan></text></g>
<g id="n-ai2-4-1-i1" class="n np"><rect x="232" y="488" width="68" height="34"/><text x="266" y="503.5"><tspan x="266">&lt;&lt;interface&gt;&gt;</tspan><tspan x="266" dy="5.8">(AI2.4.1.i1) IBS Log Manager</tspan></text></g>
<g id="n-ai4-3-i3" class="n np"><rect x="149" y="537" width="68" height="34"/><text x="183" y="552.5"><tspan x="183">&lt;&lt;interface&gt;&gt;</tspan><tspan x="183" dy="5.8">(AI4.3.i3) Alert Log Manager</tspan></text></g>
<g id="n-ai1-3-5-i1" class="n np"><rect x="232" y="537" width="68" height="34"/><text x="266" y="549.6"><tspan x="266">&lt;&lt;interface&gt;&gt;</tspan><tspan x="266" dy="5.8">(AI1.3.5.i1) Subscription Log</tspan><tspan x="266" dy="5.8">Manager</tspan></text></g>

<g id="n-ai1-3-1-c" class="n no"><rect x="149" y="631" width="68" height="34"/><text x="183" y="643.6"><tspan x="183">&lt;&lt;control&gt;&gt;</tspan><tspan x="183" dy="5.8">(AI1.3.1.c) Evaluate Supplier</tspan><tspan x="183" dy="5.8">subscription</tspan></text></g>
<g id="n-ai1-3-1-i" class="n no"><rect x="232" y="631" width="68" height="34"/><text x="266" y="640.7"><tspan x="266">&lt;&lt;interface&gt;&gt;</tspan><tspan x="266" dy="5.8">(AI1.3.1.i) Supplier</tspan><tspan x="266" dy="5.8">subscription evaluation</tspan><tspan x="266" dy="5.8">interface</tspan></text></g>
<g id="n-ai1-5-1-i" class="n no"><rect x="149" y="676" width="68" height="34"/><text x="183" y="685.7"><tspan x="183">&lt;&lt;interface&gt;&gt;</tspan><tspan x="183" dy="5.8">(AI1.5.1.i) Publish SBS</tspan><tspan x="183" dy="5.8">Subscription in Catalog</tspan><tspan x="183" dy="5.8">Interface</tspan></text></g>
<g id="n-ai1-3-3-i" class="n no"><rect x="232" y="676" width="68" height="34"/><text x="266" y="685.7"><tspan x="266">&lt;&lt;interface&gt;&gt;</tspan><tspan x="266" dy="5.8">(AI1.3.3.i) Supplier's</tspan><tspan x="266" dy="5.8">Subscriptions Requirements</tspan><tspan x="266" dy="5.8">Interface</tspan></text></g>

<g id="n-ai1-7-c" class="n no"><rect x="63" y="765" width="67" height="34"/><text x="96.5" y="777.6"><tspan x="96.5">&lt;&lt;control&gt;&gt;</tspan><tspan x="96.5" dy="5.8">(AI1.7.c) Control Subscription</tspan><tspan x="96.5" dy="5.8">Requests</tspan></text></g>
<g id="n-ai1-7-i" class="n no"><rect x="149" y="765" width="68" height="34"/><text x="183" y="777.6"><tspan x="183">&lt;&lt;interface&gt;&gt;</tspan><tspan x="183" dy="5.8">(AI1.7.i) Subscription Request</tspan><tspan x="183" dy="5.8">Status Interface</tspan></text></g>
<g id="n-ai1-1-2-c1" class="n no"><rect x="232" y="765" width="68" height="34"/><text x="266" y="777.6"><tspan x="266">&lt;&lt;control&gt;&gt;</tspan><tspan x="266" dy="5.8">(AI1.1.2.c1) Verify</tspan><tspan x="266" dy="5.8">Subscription data duplicity</tspan></text></g>
<g id="n-ai1-1-1-i" class="n no"><rect x="63" y="810" width="67" height="34"/><text x="96.5" y="819.7"><tspan x="96.5">&lt;&lt;interface&gt;&gt;</tspan><tspan x="96.5" dy="5.8">(AI1.1.1.i) Fulfillment</tspan><tspan x="96.5" dy="5.8">Subscription Requirements</tspan><tspan x="96.5" dy="5.8">Interface</tspan></text></g>
<g id="n-ai1-1-2-i" class="n no"><rect x="149" y="810" width="68" height="34"/><text x="183" y="819.7"><tspan x="183">&lt;&lt;interface&gt;&gt;</tspan><tspan x="183" dy="5.8">(AI1.1.2.i) Manual</tspan><tspan x="183" dy="5.8">Subscription Validation</tspan><tspan x="183" dy="5.8">Interface</tspan></text></g>
<g id="n-ai1-4-i" class="n no"><rect x="63" y="859" width="67" height="34"/><text x="96.5" y="871.6"><tspan x="96.5">&lt;&lt;interface&gt;&gt;</tspan><tspan x="96.5" dy="5.8">(AI1.4.i) Subscription Request</tspan><tspan x="96.5" dy="5.8">Interface</tspan></text></g>
<g id="n-ai1-1-2-c" class="n no"><rect x="149" y="859" width="68" height="34"/><text x="183" y="868.7"><tspan x="183">&lt;&lt;control&gt;&gt;</tspan><tspan x="183" dy="5.8">(AI1.1.2.c) Validate</tspan><tspan x="183" dy="5.8">subscription requirement</tspan><tspan x="183" dy="5.8">fulfillment</tspan></text></g>

<g id="n-ai1-3-2-c" class="n no"><rect x="382" y="810" width="67" height="34"/><text x="415.5" y="822.6"><tspan x="415.5">&lt;&lt;control&gt;&gt;</tspan><tspan x="415.5" dy="5.8">(AI1.3.2.c) Evaluate Customer</tspan><tspan x="415.5" dy="5.8">subscription</tspan></text></g>
<g id="n-ai1-3-2-i" class="n no"><rect x="470" y="810" width="68" height="34"/><text x="504" y="819.7"><tspan x="504">&lt;&lt;interface&gt;&gt;</tspan><tspan x="504" dy="5.8">(AI1.3.2.i) Customer</tspan><tspan x="504" dy="5.8">subscription evaluation</tspan><tspan x="504" dy="5.8">interface</tspan></text></g>
<g id="n-ai1-5-2-i" class="n no"><rect x="382" y="859" width="67" height="34"/><text x="415.5" y="868.7"><tspan x="415.5">&lt;&lt;interface&gt;&gt;</tspan><tspan x="415.5" dy="5.8">(AI1.5.2.i) Publish Customer</tspan><tspan x="415.5" dy="5.8">Subscription in Catalog</tspan><tspan x="415.5" dy="5.8">Interface</tspan></text></g>
<g id="n-ai1-3-4-i" class="n no"><rect x="470" y="859" width="68" height="34"/><text x="504" y="868.7"><tspan x="504">&lt;&lt;interface&gt;&gt;</tspan><tspan x="504" dy="5.8">(AI1.3.4.i) Customer's</tspan><tspan x="504" dy="5.8">Subscriptions Requirements</tspan><tspan x="504" dy="5.8">Interface</tspan></text></g>

<g id="n-ai1-2-2-i" class="n ns"><rect x="599" y="729" width="68" height="34"/><text x="633" y="741.6"><tspan x="633">&lt;&lt;interface&gt;&gt;</tspan><tspan x="633" dy="5.8">(AI1.2.2.i) Configure</tspan><tspan x="633" dy="5.8">Customer Policies Interface</tspan></text></g>
<g id="n-ai1-2-1-i" class="n ns"><rect x="685" y="729" width="68" height="34"/><text x="719" y="741.6"><tspan x="719">&lt;&lt;interface&gt;&gt;</tspan><tspan x="719" dy="5.8">(AI1.2.1.i) Configure Supplier</tspan><tspan x="719" dy="5.8">Policies Interface</tspan></text></g>

<g id="n-ai1-5-1-c" class="n ny"><rect x="599" y="810" width="68" height="34"/><text x="633" y="822.6"><tspan x="633">&lt;&lt;control&gt;&gt;</tspan><tspan x="633" dy="5.8">(AI1.5.1.c) ISOFIN App</tspan><tspan x="633" dy="5.8">Communication Validation</tspan></text></g>
<g id="n-ai2-4-1-c" class="n ny"><rect x="685" y="810" width="68" height="34"/><text x="719" y="822.6"><tspan x="719">&lt;&lt;control&gt;&gt;</tspan><tspan x="719" dy="5.8">(AI2.4.1.c) IBS</tspan><tspan x="719" dy="5.8">Communication Validation</tspan></text></g>
<g id="n-ai1-6-i" class="n ny"><rect x="770" y="810" width="68" height="34"/><text x="804" y="819.7"><tspan x="804">&lt;&lt;interface&gt;&gt;</tspan><tspan x="804" dy="5.8">(AI1.6.i) ISOFIN Platform</tspan><tspan x="804" dy="5.8">Access and Usage</tspan><tspan x="804" dy="5.8">Management</tspan></text></g>
<g id="n-ai1-6-c" class="n ny"><rect x="599" y="859" width="68" height="34"/><text x="633" y="871.6"><tspan x="633">&lt;&lt;control&gt;&gt;</tspan><tspan x="633" dy="5.8">(AI1.6.c) Grant Access to</tspan><tspan x="633" dy="5.8">ISOFIN Platform</tspan></text></g>
<g id="n-ai2-2-6-c3" class="n ny"><rect x="685" y="859" width="68" height="34"/><text x="719" y="871.6"><tspan x="719">&lt;&lt;control&gt;&gt;</tspan><tspan x="719" dy="5.8">(AI2.2.6.c3) Selected Object</tspan><tspan x="719" dy="5.8">permissions</tspan></text></g>
</svg>
